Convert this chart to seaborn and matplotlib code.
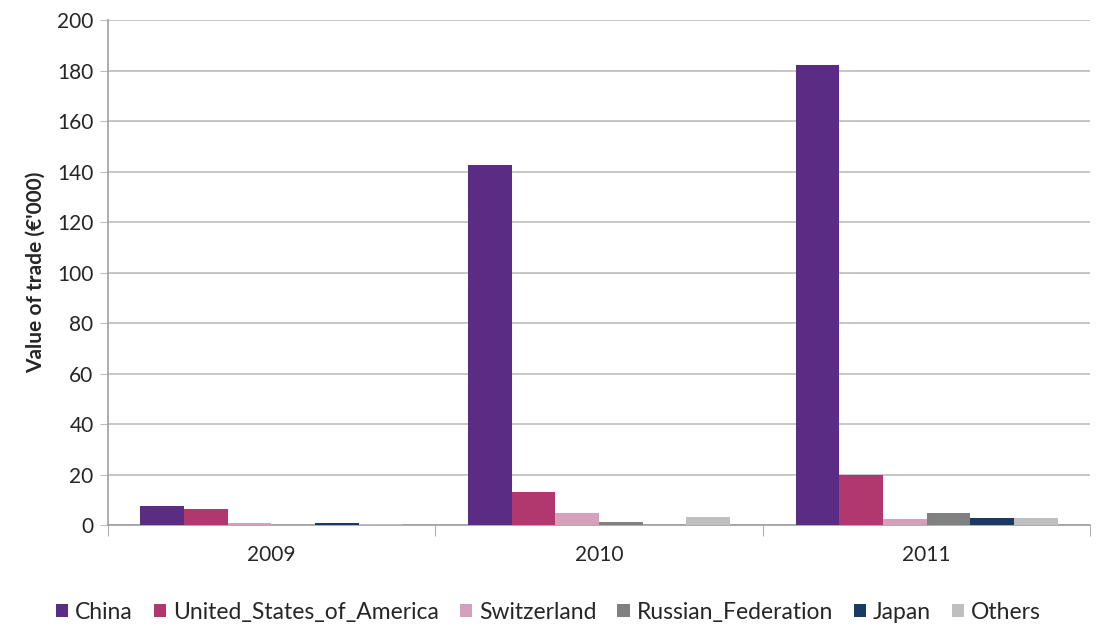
import pandas as pd
import matplotlib.pyplot as plt
import seaborn as sns

# data
years = ['2009', '2010', '2011']
countries = ['China', 'United_States_of_America', 'Switzerland',
             'Russian_Federation', 'Japan', 'Others']
china = [7.8, 142.6, 182.2]
usa = [6.4, 13.3, 19.8]
switzerland = [0.8, 4.9, 2.3]
russia = [0.0, 1.2, 5.0]
japan = [0.8, 0.0, 2.9]
others = [0.6, 3.2, 3.0]
colors = ['#5B2C83', '#B0386F', '#D4A0BA', '#808080', '#1B3A63', '#BFBFBF']

rows = []
for name, vals in zip(countries, [china, usa, switzerland, russia, japan, others]):
    for y, v in zip(years, vals):
        rows.append({'year': y, 'country': name, 'value': v})
df = pd.DataFrame(rows)

sns.set_style('white')
plt.rcParams['font.family'] = ['Lato', 'DejaVu Sans']

fig = plt.figure(figsize=(10.97, 6.29), dpi=100)
ax = fig.add_axes([0.098, 0.165, 0.896, 0.803])

sns.barplot(data=df, x='year', y='value', hue='country', order=years,
            hue_order=countries, palette=colors, width=0.8, saturation=1,
            linewidth=0, ax=ax, zorder=3)

ax.set_ylim(0, 200)
ax.set_yticks(range(0, 201, 20))
ax.set_xlim(-0.5, 2.5)
ax.yaxis.grid(True, color='#BDBDBD', linewidth=1.2, zorder=0)
ax.set_axisbelow(True)

for s in ['top', 'right']:
    ax.spines[s].set_visible(False)
for s in ['left', 'bottom']:
    ax.spines[s].set_color('#9E9E9E')
    ax.spines[s].set_linewidth(1.2)

ax.tick_params(axis='y', labelsize=15, length=6, color='#BDBDBD', left=True, pad=4)
ax.tick_params(axis='x', which='major', labelsize=15, length=0, pad=14)
ax.set_xticks([-0.5, 0.5, 1.5, 2.5], minor=True)
ax.tick_params(axis='x', which='minor', length=8, color='#9E9E9E', bottom=True)

ax.set_xlabel('')
ax.set_ylabel("Value of trade (€'000)", fontsize=15, fontweight='bold', labelpad=8)

handles, labels = ax.get_legend_handles_labels()
ax.get_legend().remove()
fig.legend(handles, labels, loc='center', bbox_to_anchor=(0.5, 0.027), ncol=6,
           frameon=False, fontsize=16.5, handlelength=0.55, handleheight=0.55,
           handletextpad=0.3, columnspacing=0.9)

plt.savefig('out.png', dpi=100)
